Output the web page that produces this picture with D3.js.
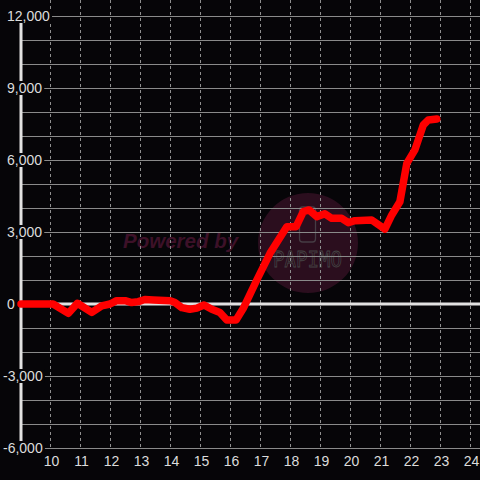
<!DOCTYPE html>
<html>
<head>
<meta charset="utf-8">
<script src="https://cdn.jsdelivr.net/npm/d3@7"></script>
<style>
  html, body { margin: 0; padding: 0; background: #060508; }
  svg { display: block; }
</style>
</head>
<body>
<svg id="chart" width="480" height="480"></svg>
<script>
// ---- data ----
const hours = [9.0, 10.07, 10.58, 10.88, 11.36, 11.69, 11.97, 12.19, 12.47, 12.69, 12.91, 13.13, 13.41, 13.97, 14.13, 14.36, 14.63, 14.86, 15.10, 15.36, 15.63, 15.86, 16.17, 16.41, 16.86, 17.30, 17.86, 18.17, 18.41, 18.60, 18.86, 19.13, 19.36, 19.69, 19.91, 20.13, 20.69, 21.13, 21.36, 21.63, 21.86, 22.13, 22.41, 22.58, 22.86];
const values = [0, 0, -390, 30, -350, -80, 0, 140, 140, 60, 100, 190, 170, 140, 60, -150, -220, -170, -40, -220, -350, -670, -670, -180, 1000, 2110, 3220, 3220, 3850, 3920, 3640, 3760, 3570, 3570, 3390, 3470, 3500, 3120, 3710, 4260, 5860, 6420, 7460, 7670, 7710];
const xTicks = [10, 11, 12, 13, 14, 15, 16, 17, 18, 19, 20, 21, 22, 23, 24];
const yLabelTicks = [12000, 9000, 6000, 3000, 0, -3000, -6000];
const yGridTicks = d3.range(-6000, 12001, 1000);

const svg = d3.select("#chart");
const W = 480, H = 480;

const x = d3.scaleLinear().domain([9, 24.3]).range([21, 480]);
const y = d3.scaleLinear().domain([-6000, 12000]).range([448, 16]);

svg.append("rect").attr("width", W).attr("height", H).attr("fill", "#060508");

// ---- watermark ----
const wm = svg.append("g");
wm.append("circle").attr("cx", 308).attr("cy", 243).attr("r", 50).attr("fill", "#2b0e1e");
wm.append("text").attr("x", 123).attr("y", 248)
  .attr("font-family", "Liberation Sans, Arial, sans-serif")
  .attr("font-size", 20.5).attr("font-weight", "bold").attr("font-style", "italic")
  .attr("fill", "#3d1128").text("Powered by");
wm.append("rect").attr("x", 299.5).attr("y", 207).attr("width", 16).attr("height", 35)
  .attr("rx", 3).attr("fill", "none").attr("stroke", "#463c44").attr("stroke-width", 1.3);
wm.append("text").attr("x", 273).attr("y", 267)
  .attr("font-family", "DejaVu Sans Mono, monospace")
  .attr("font-size", 22).attr("textLength", 69).attr("lengthAdjust", "spacingAndGlyphs")
  .attr("fill", "none").attr("stroke", "#454545").attr("stroke-width", 0.8)
  .text("PAPIMO");

// ---- grid ----
svg.append("g").selectAll("line").data(yGridTicks).join("line")
  .attr("x1", 21).attr("x2", W)
  .attr("y1", d => Math.round(y(d)) + 0.5).attr("y2", d => Math.round(y(d)) + 0.5)
  .attr("stroke", "#8a8a8a").attr("stroke-width", 1);

svg.append("g").selectAll("line").data(xTicks).join("line")
  .attr("x1", d => Math.round(x(d)) - 0.5).attr("x2", d => Math.round(x(d)) - 0.5)
  .attr("y1", 0).attr("y2", 447)
  .attr("stroke", "#8f8f8f").attr("stroke-width", 1).attr("stroke-dasharray", "3,3");

// zero line
svg.append("line").attr("x1", 21).attr("x2", W).attr("y1", y(0)).attr("y2", y(0))
  .attr("stroke", "#e2e2e2").attr("stroke-width", 3);
// y axis line
svg.append("line").attr("x1", x(9)).attr("x2", x(9)).attr("y1", y(12000)).attr("y2", y(-6000))
  .attr("stroke", "#e2e2e2").attr("stroke-width", 3);

// ---- series line ----
const pts = hours.map((h, i) => [h, values[i]]);
svg.append("path").datum(pts)
  .attr("d", d3.line().x(d => x(d[0])).y(d => y(d[1])))
  .attr("fill", "none").attr("stroke", "#ff0000").attr("stroke-width", 7.5)
  .attr("stroke-linejoin", "round").attr("stroke-linecap", "round");

// ---- y labels with background boxes ----
const fmt = v => d3.format(",")(v).replace("−", "-");
const yl = svg.append("g").selectAll("g").data(yLabelTicks).join("g");
yl.each(function(d) {
  const g = d3.select(this);
  const t = g.append("text")
    .attr("x", d < 0 ? 3 : 7).attr("y", y(d)).attr("dy", "0.36em")
    .attr("font-family", "Liberation Sans, Arial, sans-serif")
    .attr("font-size", 14).attr("fill", "#dcdcdc").text(fmt(d));
  const bb = t.node().getBBox();
  g.insert("rect", "text").attr("x", 0).attr("y", y(d) - 7)
    .attr("width", bb.x + bb.width + 2).attr("height", 14).attr("fill", "#060508");
});

// ---- x axis labels ----
const xa = svg.append("g").attr("transform", "translate(0,448)")
  .call(d3.axisBottom(x).tickValues(xTicks).tickSize(0).tickPadding(8.5).tickFormat(d3.format("d")));
xa.select(".domain").remove();
xa.selectAll("text").attr("font-family", "Liberation Sans, Arial, sans-serif")
  .attr("font-size", 14).attr("fill", "#dcdcdc");
</script>
</body>
</html>
